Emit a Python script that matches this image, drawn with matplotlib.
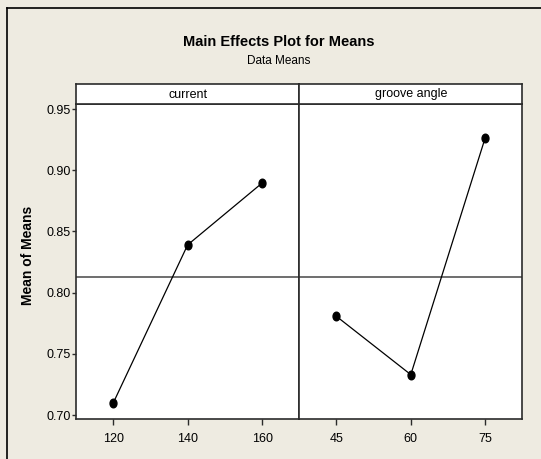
import numpy as np
import matplotlib
matplotlib.use("Agg")
import matplotlib.pyplot as plt
from matplotlib.lines import Line2D
from matplotlib.markers import MarkerStyle
from matplotlib.transforms import Affine2D

# data
current_levels = [120, 140, 160]
current_means = [0.7098, 0.8390, 0.8895]
angle_levels = [45, 60, 75]
angle_means = [0.7806, 0.7330, 0.9263]
factor_names = ["current", "groove angle"]
y_ticks = [0.70, 0.75, 0.80, 0.85, 0.90, 0.95]

grand_mean = np.mean(current_means + angle_means)

plt.rcParams['font.family'] = ['Liberation Sans', 'DejaVu Sans']
bg = '#EEEBE1'
W, H = 541, 459

fig = plt.figure(figsize=(W / 100, H / 100), dpi=100, facecolor=bg)

# outer frame (top and left edges visible)
fig.add_artist(Line2D([7.3 / W, 1.0], [1 - 8.3 / H, 1 - 8.3 / H], color='black', lw=1.2))
fig.add_artist(Line2D([7.3 / W, 7.3 / W], [0.0, 1 - 8.3 / H], color='black', lw=1.2))

fig.text(279 / W, 1 - 42 / H, "Main Effects Plot for Means", ha='center', va='center',
         fontsize=10.5, fontweight='bold')
fig.text(279 / W, 1 - 61 / H, "Data Means", ha='center', va='center', fontsize=8.5)
fig.text(28 / W, 1 - 255 / H, "Mean of Means", ha='center', va='center', rotation=90,
         fontsize=10, fontweight='bold')

left, mid, right = 76 / W, 299.3 / W, 522.3 / W
bottom, top, strip_top = 1 - 419.3 / H, 1 - 103.5 / H, 1 - 83.5 / H

marker = MarkerStyle('o', transform=Affine2D().scale(0.8, 1.0))
spine_col = '#2b2b2b'

panels = [
    (left, mid - left, current_levels, current_means, (110, 170)),
    (mid, right - mid, angle_levels, angle_means, (37.5, 82.5)),
]

for i, (x0, w, levels, means, xlim) in enumerate(panels):
    ax = fig.add_axes([x0, bottom, w, top - bottom])
    ax.set_facecolor('white')
    ax.axhline(grand_mean, color='#6e6e6e', lw=1.4, zorder=1)
    ax.plot(levels, means, color='black', lw=0.9, marker=marker, markersize=6.2,
            markerfacecolor='black', markeredgecolor='black', zorder=3)
    ax.set_xlim(*xlim)
    ax.set_ylim(0.6965, 0.9545)
    ax.set_xticks(levels)
    ax.set_xticklabels([str(v) for v in levels])
    ax.tick_params(axis='x', direction='out', length=4, width=1, pad=6,
                   labelsize=9, color=spine_col)
    if i == 0:
        ax.set_yticks(y_ticks)
        ax.set_yticklabels([f"{v:.2f}" for v in y_ticks])
        ax.tick_params(axis='y', direction='out', length=3, width=1, pad=1,
                       labelsize=9, color=spine_col)
    else:
        ax.set_yticks([])
    for s in ax.spines.values():
        s.set_color(spine_col)
        s.set_linewidth(1.2)

    sax = fig.add_axes([x0, top, w, strip_top - top])
    sax.set_facecolor('white')
    sax.set_xticks([])
    sax.set_yticks([])
    for s in sax.spines.values():
        s.set_color(spine_col)
        s.set_linewidth(1.2)
    sax.text(0.5, 0.45, factor_names[i], ha='center', va='center', fontsize=9,
             transform=sax.transAxes)

fig.savefig("out.png", dpi=100, facecolor=bg)
